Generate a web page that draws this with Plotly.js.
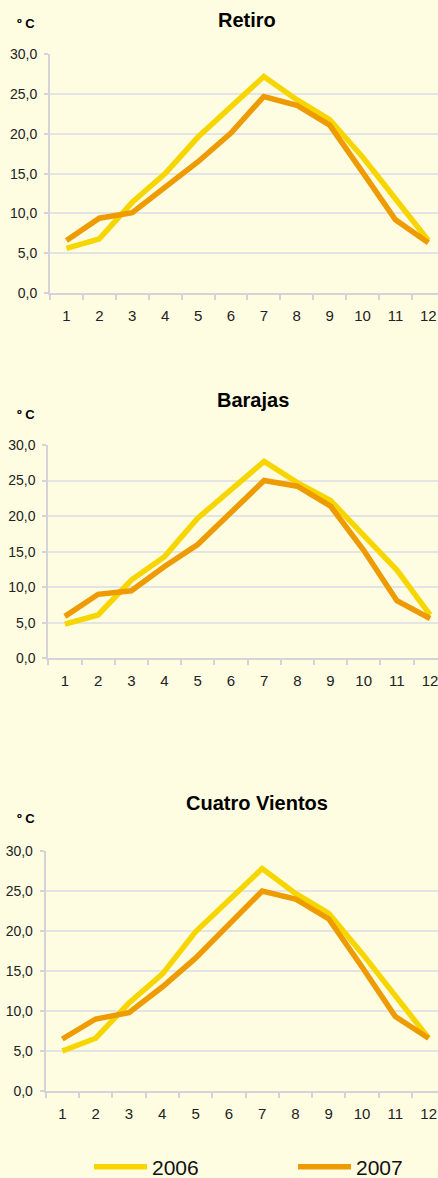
<!DOCTYPE html>
<html>
<head>
<meta charset="utf-8">
<script src="https://cdn.plot.ly/plotly-3.0.1.min.js"></script>
<style>
html,body{margin:0;padding:0;background:#FFFDE1;}
#chart{width:438px;height:1178px;}
</style>
</head>
<body>
<div id="chart"></div>
<script>
const months = ["1","2","3","4","5","6","7","8","9","10","11","12"];
const stations = ["Retiro","Barajas","Cuatro Vientos"];
const seriesNames = ["2006","2007"];
const retiro2006 = [5.6,6.8,11.4,15.0,19.6,23.4,27.2,24.3,21.8,17.1,11.9,6.6];
const retiro2007 = [6.6,9.4,10.1,13.2,16.5,20.1,24.7,23.6,21.1,15.2,9.2,6.3];
const barajas2006 = [4.8,6.1,11.0,14.3,19.7,23.7,27.7,24.7,22.2,17.3,12.4,6.1];
const barajas2007 = [5.9,9.0,9.5,12.9,16.0,20.4,25.0,24.2,21.4,15.2,8.1,5.6];
const cuatro2006 = [5.0,6.6,11.0,14.6,19.9,23.9,27.8,24.7,22.2,17.2,11.8,6.6];
const cuatro2007 = [6.5,9.0,9.8,13.0,16.6,20.7,25.0,24.0,21.5,15.5,9.3,6.6];
const yTicks = [0,5,10,15,20,25,30];
const unitLabel = "º C";

const colors = ["#F7D600","#EE9B00"];
const data2006 = [retiro2006, barajas2006, cuatro2006];
const data2007 = [retiro2007, barajas2007, cuatro2007];

const font = "Liberation Sans, Arial, sans-serif";
const traces = [];
const suffix = ["","2","3"];
const legendIds = ["legend","legend2"];
for (let i=0;i<3;i++){
  [data2006[i], data2007[i]].forEach((vals, k) => {
    traces.push({
      x: months, y: vals, type: "scatter", mode: "lines",
      name: seriesNames[k], legendgroup: seriesNames[k],
      legend: legendIds[k],
      showlegend: i===0,
      line: {color: colors[k], width: 5.5},
      xaxis: "x"+suffix[i], yaxis: "y"+suffix[i],
      hoverinfo: "skip"
    });
  });
}

const W = 438, H = 1178;
const geo = [
  {left:50, step:32.9, y0:293, y30:54.3, titleY:20, unitY:23, titleX:247},
  {left:48.3, step:33.2, y0:658.3, y30:445, titleY:400, unitY:414, titleX:253},
  {left:45.7, step:33.3, y0:1091, y30:851, titleY:803, unitY:818, titleX:257}
];

function legendCfg(px){
  return {
    orientation: "h", x: px/W, xanchor: "left", y: (H-1167)/H, yanchor: "middle",
    font: {size: 21, color: "#111111", family: font},
    itemwidth: 53,
    bgcolor: "rgba(0,0,0,0)", borderwidth: 0
  };
}

const layout = {
  width: W, height: H,
  margin: {l:0, r:0, t:0, b:0, autoexpand: false},
  paper_bgcolor: "#FFFDE1",
  plot_bgcolor: "rgba(0,0,0,0)",
  font: {family: font, color: "#333333", size: 13},
  separators: ",.",
  showlegend: true,
  legend: legendCfg(89),
  legend2: legendCfg(293),
  annotations: [],
  shapes: []
};

geo.forEach((g, i) => {
  const xa = "xaxis"+suffix[i], ya = "yaxis"+suffix[i];
  const rightIdx = -0.5 + (W - g.left)/g.step;
  layout[xa] = {
    type: "category",
    domain: [g.left/W, 1],
    range: [-0.5, rightIdx],
    anchor: "y"+suffix[i],
    showgrid: false, zeroline: false,
    showline: true, linecolor: "#D3D3D8", linewidth: 2,
    ticks: "outside", tickson: "boundaries", ticklen: 5, tickwidth: 2, tickcolor: "#D3D3D8",
    ticklabelstandoff: 8,
    tickfont: {size: 15, color: "#222222"},
    fixedrange: true
  };
  layout[ya] = {
    domain: [(H-g.y0)/H, (H-g.y30)/H],
    range: [0, 30],
    anchor: "x"+suffix[i],
    tickvals: yTicks, tickformat: ".1f",
    showgrid: true, gridcolor: "#E4E4E4", gridwidth: 2,
    zeroline: false,
    showline: true, linecolor: "#D3D3D8", linewidth: 2,
    ticks: "outside", ticklen: 4, tickwidth: 2, tickcolor: "#D3D3D8",
    ticklabelstandoff: 4,
    tickfont: {size: 14, color: "#222222"},
    fixedrange: true
  };
  layout.annotations.push({
    text: "<b>"+stations[i]+"</b>", xref: "paper", yref: "paper",
    x: g.titleX/W, y: (H-g.titleY)/H, xanchor: "center", yanchor: "middle",
    showarrow: false, font: {size: 20, color: "#000000", family: font}
  });
  layout.annotations.push({
    text: "<b>"+unitLabel+"</b>", xref: "paper", yref: "paper",
    x: 15/W, y: (H-g.unitY)/H, xanchor: "left", yanchor: "middle",
    showarrow: false, font: {size: 13, color: "#000000", family: font}
  });
});

Plotly.newPlot("chart", traces, layout, {displayModeBar: false, staticPlot: true});
</script>
</body>
</html>
